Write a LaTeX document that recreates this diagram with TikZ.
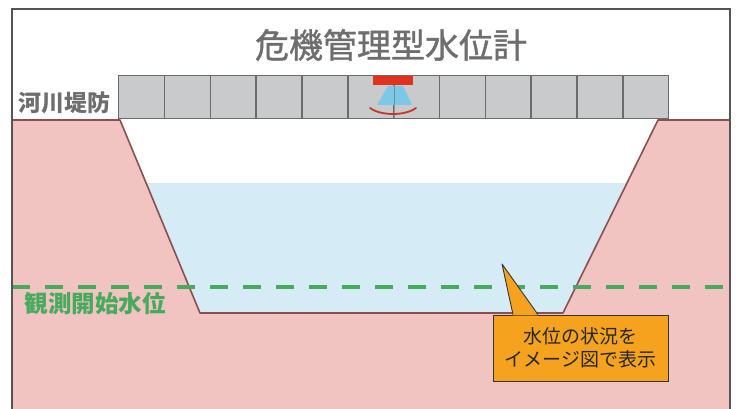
\documentclass[tikz,border=0pt]{standalone}
\usepackage{fontspec}
\newfontfamily\jp{Noto Sans CJK JP}
\newfontfamily\jpheavy[FakeBold=1.2]{Noto Sans CJK JP}
\usetikzlibrary{calc}
\definecolor{ground}{HTML}{F1C4C2}
\definecolor{water}{HTML}{D5ECF7}
\definecolor{bank}{HTML}{8A5050}
\definecolor{cellfill}{HTML}{C8CACC}
\definecolor{cellline}{HTML}{6B6B6B}
\definecolor{framegray}{HTML}{555555}
\definecolor{titlegray}{HTML}{6E6E6E}
\definecolor{levelgreen}{HTML}{48AA5C}
\definecolor{calloutfill}{HTML}{F5A31E}
\definecolor{sensorred}{HTML}{E0321E}
\definecolor{sensorblue}{HTML}{7CC8E8}
\definecolor{arcred}{HTML}{C0392B}
\tikzset{
  cell/.style={draw=cellline, fill=cellfill, line width=1.4pt, minimum width=45.83pt, minimum height=43pt, inner sep=0pt, anchor=north west},
  banktext/.style={font=\jp\bfseries\fontsize{23}{26}\selectfont, text=titlegray},
  leveltext/.style={font=\jp\bfseries\fontsize{23.5}{26}\selectfont, text=levelgreen},
  titletext/.style={font=\jpheavy\fontsize{34}{40}\selectfont, text=titlegray},
  calloutbox/.style={draw=black!80, line width=0.9pt, fill=calloutfill, minimum width=175pt, minimum height=66pt, inner sep=0pt, align=center, font=\jp\fontsize{19}{23}\selectfont, text=black!85},
  levelline/.style={levelgreen, line width=4.5pt, dash pattern=on 18pt off 15pt},
}
\begin{document}
\begin{tikzpicture}[x=1pt,y=-1pt]
\useasboundingbox (0,0) rectangle (738,409);
\fill[white] (0,0) rectangle (738,409);

% ground and river channel
\fill[ground] (12,120) -- (120,120) -- (200,313) -- (563,313) -- (658,120) -- (730,120) -- (730,409) -- (12,409) -- cycle;
\fill[water] (146.1,183) -- (627,183) -- (563,313) -- (200,313) -- cycle;
\draw[bank, line width=1.6pt, line join=round] (12,120) -- (120,120) -- (200,313) -- (563,313) -- (658,120) -- (730,120);

% observation start level
\coordinate (lvlL) at (12,287);
\coordinate (lvlR) at (730,287);
\draw[levelline] (lvlL) -- (lvlR);
\node[leveltext, anchor=west] (lvllabel) at (21,304) {観測開始水位};

% outer frame
\draw[framegray, line width=2pt] (12,409) -- (12,9) -- (730,9) -- (730,409);

% title
\node[titletext] (title) at (391,45) {危機管理型水位計};

% embankment blocks
\foreach \i in {0,...,11}{
  \node[cell] (c\i) at ({118+45.83*\i},75) {};
}
\node[banktext, anchor=center] (banklabel) at (64,103) {河川堤防};

% water level sensor
\fill[sensorblue] (388,86) -- (403,86) -- (412,105) -- (377,105) -- cycle;
\draw[cellline, line width=1pt, opacity=0.6] (c5.north east) -- (c5.south east);
\node[fill=sensorred, minimum width=40pt, minimum height=9pt, inner sep=0pt] (sensor) at (393,81) {};
\draw[arcred, line width=1.8pt, line cap=round] (370,108) .. controls (381,116) and (405,116) .. (416,108);

% callout
\node[calloutbox] (note) at (580.5,348) {水位の状況を\\イメージ図で表示};
\coordinate (tip) at (502,264);
\fill[calloutfill] ($(note.north)+(-67.5,0.9)$) -- (tip) -- ($(note.north)+(-42.5,0.9)$) -- cycle;
\draw[black!80, line width=0.9pt, line join=round] ($(note.north)+(-67.5,0)$) -- (tip) -- ($(note.north)+(-42.5,0)$);
\end{tikzpicture}
\end{document}
